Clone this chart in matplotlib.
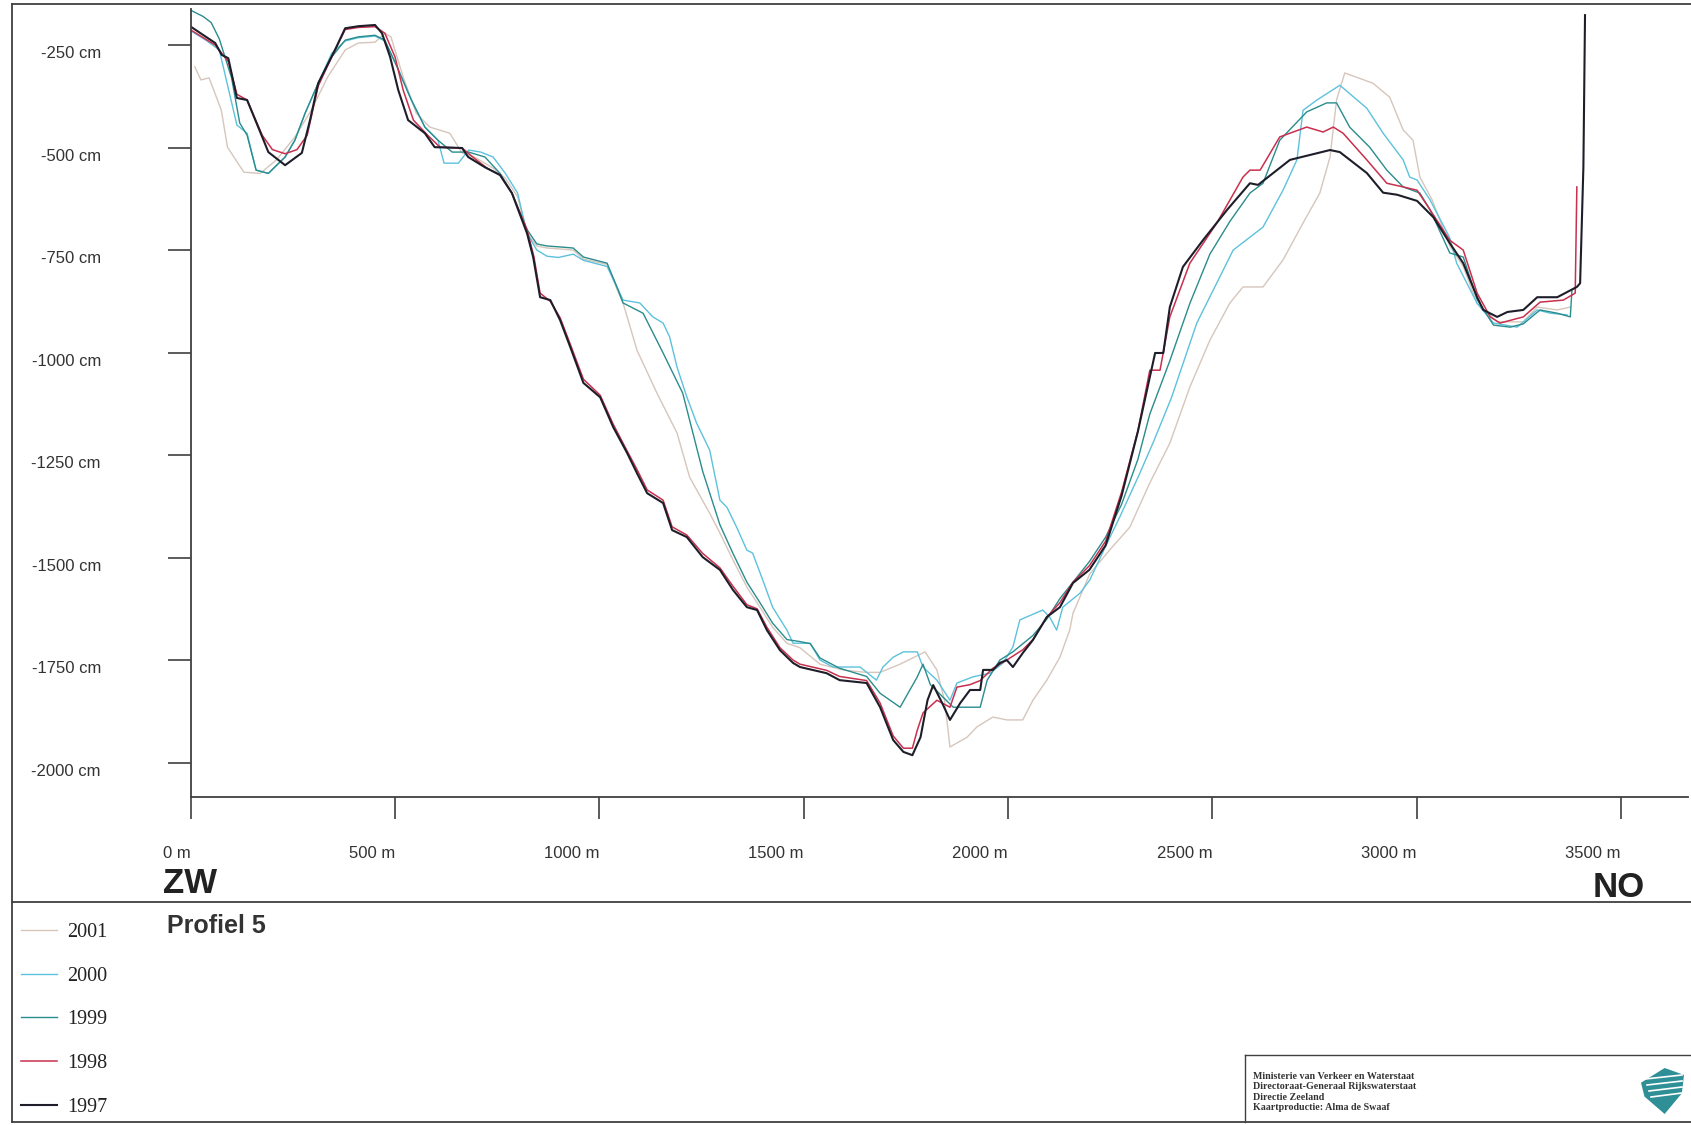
import matplotlib
matplotlib.use('Agg')
import matplotlib.pyplot as plt
from matplotlib.transforms import ScaledTranslation
from matplotlib.patches import Polygon
from matplotlib.lines import Line2D

# profile data: distance (m) and depth (cm)
dist_1997 = [0, 60, 76, 92, 113, 138, 175, 190, 231, 272, 292, 312, 353, 378, 410, 451, 468, 488, 508, 532,
             573, 597, 664, 679, 720, 757, 786, 823, 838, 855, 880, 904, 929, 961, 1002, 1034, 1068, 1092, 1117,
             1156, 1178, 1214, 1253, 1295, 1327, 1361, 1386, 1410, 1442, 1474, 1491, 1556, 1588, 1654, 1687,
             1719, 1744, 1766, 1786, 1803, 1817, 1839, 1858, 1883, 1907, 1932, 1939, 1963, 1980, 1997, 2012,
             2036, 2061, 2095, 2127, 2159, 2199, 2239, 2278, 2318, 2347, 2360, 2380, 2396, 2428, 2477, 2536,
             2592, 2612, 2690, 2739, 2788, 2812, 2878, 2918, 2952, 3001, 3041, 3081, 3114, 3148, 3163, 3197,
             3222, 3261, 3295, 3344, 3392, 3400, 3408, 3412]
depth_1997 = [-205, -245, -274, -282, -379, -384, -474, -511, -543, -513, -433, -343, -262, -209, -204, -201,
              -221, -279, -360, -433, -465, -499, -501, -523, -548, -567, -611, -709, -767, -865, -872, -921,
              -987, -1074, -1109, -1182, -1245, -1294, -1343, -1367, -1433, -1450, -1499, -1530, -1579, -1621,
              -1628, -1677, -1726, -1757, -1767, -1782, -1799, -1806, -1865, -1945, -1974, -1982, -1938, -1848,
              -1811, -1855, -1896, -1855, -1823, -1823, -1774, -1774, -1757, -1750, -1767, -1733, -1701, -1645,
              -1621, -1562, -1530, -1470, -1349, -1192, -1060, -1001, -1001, -889, -791, -726, -652, -587, -591,
              -530, -518, -506, -511, -562, -610, -615, -630, -670, -733, -782, -865, -896, -913, -901, -896,
              -865, -865, -840, -831, -548, -177]

dist_1998 = [0, 60, 92, 113, 138, 175, 200, 231, 260, 285, 312, 353, 378, 410, 451, 475, 500, 520, 545, 580,
             610, 664, 690, 725, 757, 786, 823, 840, 855, 880, 904, 929, 961, 1002, 1034, 1068, 1092, 1117, 1156,
             1178, 1214, 1253, 1295, 1327, 1361, 1386, 1410, 1442, 1474, 1491, 1556, 1588, 1654, 1687, 1719,
             1744, 1766, 1778, 1792, 1826, 1858, 1875, 1907, 1932, 1963, 1997, 2036, 2061, 2095, 2127, 2159,
             2199, 2239, 2278, 2318, 2347, 2372, 2396, 2445, 2511, 2575, 2592, 2617, 2665, 2731, 2771, 2796,
             2820, 2878, 2927, 2967, 3001, 3033, 3081, 3114, 3148, 3180, 3204, 3261, 3302, 3359, 3388, 3392]
depth_1998 = [-213, -250, -290, -370, -384, -470, -505, -515, -505, -470, -350, -262, -212, -207, -205, -221,
              -279, -360, -433, -470, -499, -501, -523, -550, -567, -611, -700, -767, -855, -875, -915, -980,
              -1065, -1104, -1175, -1240, -1285, -1335, -1360, -1425, -1445, -1490, -1525, -1570, -1615, -1625,
              -1670, -1720, -1750, -1760, -1775, -1790, -1800, -1855, -1935, -1965, -1965, -1921, -1879, -1848,
              -1865, -1816, -1810, -1800, -1770, -1750, -1725, -1700, -1645, -1610, -1560, -1520, -1460, -1340,
              -1190, -1043, -1043, -913, -782, -684, -572, -555, -555, -474, -450, -462, -450, -465, -530, -587,
              -596, -604, -652, -726, -750, -855, -913, -928, -913, -877, -872, -855, -596]

dist_1999 = [0, 30, 50, 70, 100, 120, 138, 160, 190, 231, 255, 280, 312, 345, 378, 410, 451, 475, 505, 540,
             573, 605, 640, 680, 720, 757, 786, 823, 847, 872, 912, 936, 961, 1019, 1043, 1058, 1107, 1156, 1204,
             1253, 1295, 1327, 1361, 1393, 1424, 1459, 1491, 1516, 1540, 1588, 1654, 1687, 1736, 1778, 1792,
             1810, 1866, 1932, 1949, 1980, 2012, 2061, 2095, 2127, 2159, 2199, 2239, 2278, 2318, 2347, 2396,
             2445, 2494, 2543, 2592, 2624, 2665, 2731, 2780, 2804, 2836, 2885, 2927, 2967, 3008, 3033, 3081,
             3114, 3148, 3188, 3229, 3261, 3302, 3344, 3376, 3380]
depth_1999 = [-165, -180, -195, -235, -330, -440, -470, -555, -563, -523, -482, -416, -343, -279, -238, -230,
              -226, -238, -303, -384, -450, -482, -511, -511, -523, -563, -611, -700, -735, -740, -743, -745,
              -767, -782, -840, -879, -904, -1001, -1099, -1290, -1420, -1490, -1560, -1610, -1660, -1700, -1705,
              -1710, -1745, -1770, -1790, -1831, -1865, -1791, -1760, -1810, -1865, -1865, -1799, -1750, -1730,
              -1690, -1650, -1600, -1560, -1510, -1450, -1370, -1260, -1150, -1020, -880, -760, -680, -611,
              -587, -482, -413, -391, -391, -450, -499, -555, -596, -611, -652, -757, -767, -870, -933, -938,
              -930, -896, -904, -913, -847]

dist_2000 = [0, 40, 70, 113, 138, 160, 190, 231, 255, 280, 312, 345, 378, 410, 451, 475, 505, 540, 573, 605,
             620, 655, 680, 710, 740, 770, 800, 823, 847, 872, 900, 936, 961, 1019, 1043, 1058, 1099, 1131, 1156,
             1172, 1190, 1214, 1238, 1270, 1295, 1312, 1336, 1361, 1375, 1400, 1424, 1459, 1474, 1516, 1540,
             1572, 1638, 1678, 1694, 1719, 1744, 1778, 1792, 1826, 1858, 1875, 1914, 1956, 1988, 2012, 2029,
             2085, 2102, 2119, 2134, 2176, 2200, 2240, 2274, 2320, 2355, 2400, 2462, 2551, 2624, 2673, 2707,
             2722, 2756, 2812, 2878, 2918, 2967, 2983, 3001, 3033, 3081, 3098, 3148, 3188, 3246, 3295, 3327,
             3368]
depth_2000 = [-215, -240, -262, -445, -465, -555, -563, -523, -482, -416, -343, -270, -240, -232, -228, -240,
              -303, -384, -450, -482, -538, -538, -506, -511, -523, -563, -611, -709, -750, -765, -768, -760,
              -775, -790, -840, -872, -879, -913, -928, -962, -1035, -1108, -1172, -1238, -1360, -1377, -1426,
              -1482, -1489, -1555, -1621, -1677, -1709, -1709, -1750, -1767, -1767, -1799, -1767, -1743, -1730,
              -1730, -1767, -1799, -1848, -1806, -1791, -1782, -1757, -1718, -1652, -1628, -1645, -1677, -1621,
              -1587, -1555, -1470, -1400, -1300, -1220, -1110, -928, -750, -694, -604, -530, -409, -384, -348,
              -404, -465, -530, -572, -579, -628, -720, -782, -880, -928, -938, -896, -904, -908]

dist_2001 = [10, 25, 45, 75, 90, 130, 170, 210, 255, 295, 335, 378, 410, 451, 475, 490, 520, 552, 585, 634,
             664, 694, 740, 770, 800, 823, 847, 872, 912, 936, 961, 1019, 1043, 1058, 1092, 1141, 1190, 1221,
             1270, 1295, 1327, 1361, 1393, 1424, 1459, 1491, 1540, 1600, 1654, 1687, 1736, 1797, 1826, 1845,
             1858, 1900, 1924, 1963, 1997, 2036, 2061, 2095, 2127, 2151, 2159, 2200, 2250, 2298, 2347, 2396,
             2445, 2494, 2543, 2575, 2624, 2673, 2722, 2763, 2788, 2804, 2824, 2893, 2934, 2967, 2991, 3008,
             3038, 3081, 3114, 3148, 3197, 3261, 3295, 3344, 3376]
depth_2001 = [-303, -335, -330, -409, -499, -560, -563, -530, -474, -409, -328, -262, -245, -243, -221, -230,
              -328, -416, -450, -465, -513, -523, -550, -575, -620, -709, -740, -745, -748, -750, -772, -785,
              -845, -879, -994, -1099, -1196, -1304, -1392, -1440, -1506, -1572, -1621, -1670, -1709, -1720,
              -1760, -1775, -1780, -1780, -1760, -1730, -1774, -1850, -1962, -1938, -1913, -1889, -1896, -1896,
              -1848, -1799, -1743, -1677, -1636, -1540, -1480, -1426, -1318, -1221, -1084, -970, -879, -840,
              -840, -774, -684, -611, -523, -384, -318, -343, -377, -457, -482, -572, -628, -740, -790, -880,
              -925, -925, -889, -896, -889]

years = ['2001', '2000', '1999', '1998', '1997']
series = [(dist_2001, depth_2001), (dist_2000, depth_2000), (dist_1999, depth_1999),
          (dist_1998, depth_1998), (dist_1997, depth_1997)]
colors = ['#d6c6bc', '#5cc2dc', '#2a8c8c', '#c8304e', '#1e1e2a']
widths = [1.0, 1.0, 1.0, 1.1, 1.5]

x_ticks = [0, 500, 1000, 1500, 2000, 2500, 3000, 3500]
y_ticks = [-250, -500, -750, -1000, -1250, -1500, -1750, -2000]

credits = ['Ministerie van Verkeer en Waterstaat', 'Directoraat-Generaal Rijkswaterstaat',
           'Directie Zeeland', 'Kaartproductie: Alma de Swaaf']

W, H = 1691, 1125
fig = plt.figure(figsize=(W / 100, H / 100), dpi=100)


def fx(px):
    return px / W


def fy(py):
    return 1 - py / H


ax = fig.add_axes([fx(190.7), fy(797), fx(1688) - fx(190.7), fy(9) - fy(797)])

for (d, z), yr, c, lw in zip(series, years, colors, widths):
    ax.plot(d, z, color=c, lw=lw, label=yr)

ax.set_xlim(0, 3664)
ax.set_ylim(-2084, -162)
for s in ['top', 'right']:
    ax.spines[s].set_visible(False)
for s in ['left', 'bottom']:
    ax.spines[s].set_color('#404040')
    ax.spines[s].set_linewidth(1.3)

ax.set_xticks(x_ticks)
ax.set_xticklabels([f'{v} m' for v in x_ticks])
ax.set_yticks(y_ticks)
ax.set_yticklabels([f'{v} cm' for v in y_ticks])
ax.tick_params(axis='x', direction='out', length=16, width=1.2, pad=19, labelsize=12,
               color='#404040', labelcolor='#333333')
ax.tick_params(axis='y', direction='out', length=16.6, width=1.2, pad=48, labelsize=12,
               color='#404040', labelcolor='#333333')
for lab in ax.get_xticklabels():
    lab.set_horizontalalignment('right')
    lab.set_fontfamily('Liberation Sans')
for lab in ax.get_yticklabels():
    lab.set_fontfamily('Liberation Sans')
    lab.set_transform(lab.get_transform() + ScaledTranslation(0, -7 / 100, fig.dpi_scale_trans))

# outer frame and separators
frame_kw = dict(transform=fig.transFigure, color='#404040', lw=1.3)
fig.add_artist(Line2D([fx(12), fx(12)], [fy(4), fy(1122)], **frame_kw))
fig.add_artist(Line2D([fx(12), fx(1691)], [fy(4), fy(4)], **frame_kw))
fig.add_artist(Line2D([fx(12), fx(1691)], [fy(1122), fy(1122)], **frame_kw))
fig.add_artist(Line2D([fx(12), fx(1691)], [fy(902), fy(902)], **frame_kw))
fig.add_artist(Line2D([fx(1245), fx(1245)], [fy(1055), fy(1122)], transform=fig.transFigure,
                      color='#404040', lw=1.0))
fig.add_artist(Line2D([fx(1245), fx(1691)], [fy(1055), fy(1055)], transform=fig.transFigure,
                      color='#404040', lw=1.0))

fig.text(fx(163), fy(893), 'ZW', fontsize=25, weight='bold', family='Liberation Sans',
         color='#222222', va='baseline')
fig.text(fx(1593), fy(897), 'NO', fontsize=25, weight='bold', family='Liberation Sans',
         color='#222222', va='baseline')
fig.text(fx(167), fy(933), 'Profiel 5', fontsize=18, weight='bold', family='Liberation Sans',
         color='#333333', va='baseline')

leg = fig.legend(loc='upper left', bbox_to_anchor=(fx(21), fy(923)), frameon=False,
                 prop={'family': 'Liberation Serif', 'size': 14.5}, handlelength=1.8,
                 handletextpad=0.5, labelspacing=1.22, borderpad=0, borderaxespad=0)
for t in leg.get_texts():
    t.set_color('#222222')

for i, line in enumerate(credits):
    fig.text(fx(1253), fy(1079 + i * 10.4), line, fontsize=7.2, weight='bold',
             family='Liberation Serif', color='#333333', va='baseline')

# Rijkswaterstaat logo
lx0, lx1, ly0, ly1 = 1641, 1684, 1068, 1114
shape = [(0.0, 0.32), (0.55, 0.0), (1.0, 0.15), (0.95, 0.55), (0.55, 1.0), (0.08, 0.62)]
logo = Polygon([(fx(lx0 + u * (lx1 - lx0)), fy(ly0 + v * (ly1 - ly0))) for u, v in shape],
               closed=True, transform=fig.transFigure, facecolor='#2f8f96', edgecolor='none')
fig.add_artist(logo)
for k in range(4):
    yy = ly0 + 7 + k * 6
    fig.add_artist(Line2D([fx(lx0 + 4 + 2 * k), fx(lx1 - 2)], [fy(yy + 4), fy(yy)],
                          transform=fig.transFigure, color='white', lw=1.2))

fig.savefig('out.png', dpi=100)
